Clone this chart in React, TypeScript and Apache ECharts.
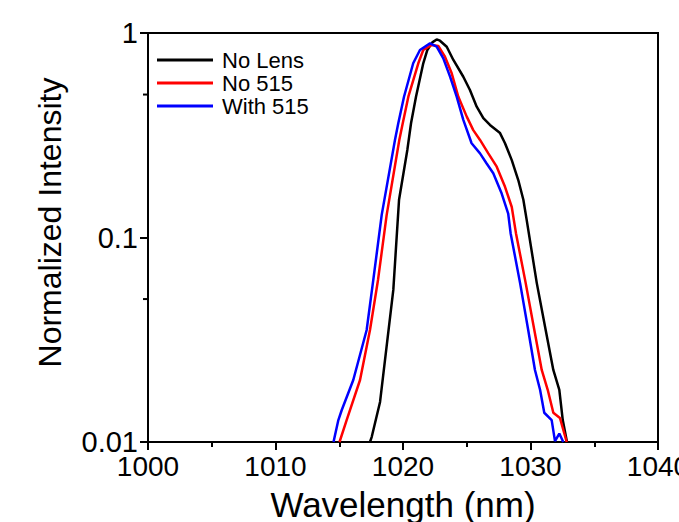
import React, { useEffect, useRef } from "react";
import * as echarts from "echarts";

// Wavelength (nm) and normalized intensity
const noLensWavelength = [
  1017.41, 1017.55, 1018.2, 1019.24, 1019.69, 1020.34, 1020.63, 1021.02, 1021.59,
  1021.91, 1022.3, 1022.64, 1022.9, 1023.43, 1023.95, 1024.73, 1025.25, 1025.78, 1026.3,
  1026.82, 1027.61, 1028.0, 1028.53, 1029.04, 1029.44, 1029.7, 1030.49, 1031.19, 1031.79,
  1032.26, 1032.53, 1032.86,
];
const noLensIntensity = [
  0.01, 0.0106, 0.0157, 0.0554, 0.153, 0.268, 0.362, 0.488, 0.711,
  0.826, 0.9, 0.93, 0.917, 0.857, 0.738, 0.611, 0.526, 0.436, 0.383,
  0.355, 0.324, 0.289, 0.239, 0.191, 0.153, 0.122, 0.06, 0.0353, 0.0225,
  0.018, 0.0128, 0.01,
];

const no515Wavelength = [
  1015.02, 1015.58, 1016.63, 1017.41, 1018.04, 1018.72, 1019.71, 1019.98, 1020.42, 1021.2,
  1021.59, 1022.25, 1022.77, 1023.29, 1023.82, 1024.34, 1025.0, 1025.51, 1026.04, 1026.69,
  1027.35, 1028.0, 1028.53, 1028.86, 1029.62, 1030.3, 1030.88, 1031.35, 1031.79, 1032.31,
  1032.84,
];
const no515Intensity = [
  0.01, 0.0128, 0.0201, 0.0353, 0.062, 0.129, 0.3, 0.362, 0.488, 0.711,
  0.826, 0.874, 0.864, 0.766, 0.635, 0.488, 0.39, 0.335, 0.3, 0.258,
  0.222, 0.177, 0.141, 0.105, 0.06, 0.0353, 0.0225, 0.018, 0.0139, 0.0131,
  0.01,
];

const with515Wavelength = [
  1014.55, 1014.93, 1015.19, 1016.1, 1017.15, 1017.67, 1018.33, 1019.37, 1019.63, 1020.08,
  1020.8, 1021.33, 1022.12, 1022.64, 1023.16, 1023.69, 1024.21, 1024.73, 1025.38, 1026.04,
  1026.56, 1027.08, 1027.74, 1028.25, 1028.44, 1029.18, 1029.82, 1030.35, 1030.75, 1031.08,
  1031.66, 1031.92, 1032.26, 1032.57,
];
const with515Intensity = [
  0.01, 0.0128, 0.0143, 0.0201, 0.0353, 0.062, 0.129, 0.3, 0.362, 0.488,
  0.711, 0.826, 0.89, 0.857, 0.752, 0.612, 0.488, 0.376, 0.289, 0.258,
  0.23, 0.206, 0.164, 0.131, 0.105, 0.06, 0.0353, 0.0225, 0.018, 0.0139,
  0.0128, 0.0101, 0.011, 0.01,
];

const seriesNames = ["No Lens", "No 515", "With 515"];
const seriesColors = ["#000000", "#ff0000", "#0000ff"];
const yMinorTickValues = [0.05, 0.5];

const zip = (xs: number[], ys: number[]) => xs.map((x, i) => [x, ys[i]]);

const FONT = "'Liberation Sans', Arial, sans-serif";
const GRID_LEFT = 148;

export default function App() {
  const ref = useRef<HTMLDivElement>(null);

  useEffect(() => {
    if (!ref.current) return;
    const chart = echarts.init(ref.current, null, { renderer: "svg" });
    const datasets = [
      zip(noLensWavelength, noLensIntensity),
      zip(no515Wavelength, no515Intensity),
      zip(with515Wavelength, with515Intensity),
    ];
    chart.setOption({
      animation: false,
      backgroundColor: "#ffffff",
      grid: {
        left: GRID_LEFT,
        right: 21,
        top: 33,
        bottom: 80,
        containLabel: false,
        outerBoundsMode: "none",
        show: true,
        borderColor: "#000",
        borderWidth: 2,
        backgroundColor: "transparent",
      },
      legend: {
        orient: "vertical",
        left: 157,
        top: 49,
        padding: 0,
        icon: "rect",
        itemWidth: 56,
        itemHeight: 3,
        itemGap: 1,
        data: seriesNames,
        textStyle: { fontSize: 22, color: "#000", fontFamily: FONT, padding: [0, 0, 0, 4] },
      },
      xAxis: {
        type: "value",
        min: 1000,
        max: 1040,
        interval: 10,
        name: "Wavelength (nm)",
        nameLocation: "middle",
        nameGap: 45,
        nameTextStyle: { fontSize: 35, color: "#000", fontFamily: FONT },
        axisLine: { lineStyle: { color: "#000", width: 2 } },
        axisTick: { inside: false, length: 8, lineStyle: { color: "#000", width: 2 } },
        minorTick: { show: true, splitNumber: 2, length: 5, lineStyle: { color: "#000", width: 2 } },
        splitLine: { show: false },
        axisLabel: {
          fontSize: 28,
          color: "#000",
          fontFamily: FONT,
          margin: 10,
          hideOverlap: false,
          formatter: (v: number) => String(v),
        },
      },
      yAxis: {
        type: "log",
        logBase: 10,
        min: 0.01,
        max: 1,
        name: "Normalized Intensity",
        nameLocation: "middle",
        nameGap: 82,
        nameTextStyle: { fontSize: 32, color: "#000", fontFamily: FONT, padding: [0, 0, 0, 30] },
        axisLine: { lineStyle: { color: "#000", width: 2 } },
        axisTick: { inside: false, length: 8, lineStyle: { color: "#000", width: 2 } },
        splitLine: { show: false },
        axisLabel: {
          fontSize: 29,
          color: "#000",
          fontFamily: FONT,
          margin: 10,
          formatter: (v: number) => String(Number(v.toPrecision(2))),
        },
      },
      series: datasets.map((d, i) => ({
        name: seriesNames[i],
        type: "line",
        data: d,
        symbol: "none",
        showSymbol: false,
        smooth: false,
        clip: true,
        lineStyle: { color: seriesColors[i], width: 2.5 },
        itemStyle: { color: seriesColors[i] },
      })),
    });

    // minor ticks of the log axis, positioned through the axis scale
    const minorTicks = yMinorTickValues.map((v) => {
      const py = chart.convertToPixel({ yAxisIndex: 0 }, v) as number;
      return {
        type: "line",
        shape: { x1: GRID_LEFT - 5, y1: py, x2: GRID_LEFT, y2: py },
        style: { stroke: "#000", lineWidth: 2 },
        silent: true,
      };
    });
    chart.setOption({ graphic: minorTicks });

    return () => chart.dispose();
  }, []);

  return (
    <div
      ref={ref}
      style={{
        position: "absolute",
        left: 0,
        top: 0,
        width: 679,
        height: 522,
        overflow: "hidden",
        background: "#fff",
      }}
    />
  );
}
